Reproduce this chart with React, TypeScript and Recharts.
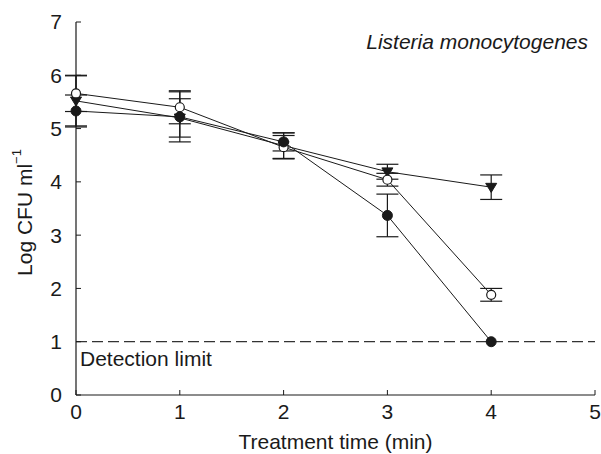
import React from "react";
import {
  LineChart,
  Line,
  XAxis,
  YAxis,
  ErrorBar,
  ReferenceLine,
} from "recharts";

const times = [0, 1, 2, 3, 4];
const filledCircle = [5.33, 5.22, 4.75, 3.37, 1.0];
const filledCircleErr = [0.3, 0.47, 0.17, 0.4, 0];
const openCircle = [5.66, 5.4, 4.65, 4.04, 1.88];
const openCircleErr = [0.34, 0.31, 0.22, 0.12, 0.12];
const triangle = [5.52, 5.2, 4.68, 4.19, 3.9];
const triangleErr = [0.47, 0.36, 0.24, 0.14, 0.23];

const xTicks = [0, 1, 2, 3, 4, 5];
const yTicks = [0, 1, 2, 3, 4, 5, 6, 7];

const FONT = "'Liberation Sans', Arial, Helvetica, sans-serif";
const INK = "#1a1a1a";

const data = times.map((t, i) => ({
  t,
  filled: filledCircle[i],
  filledErr: filledCircleErr[i],
  open: openCircle[i],
  openErr: openCircleErr[i],
  tri: triangle[i],
  triErr: triangleErr[i],
}));

interface DotProps {
  cx?: number;
  cy?: number;
  index?: number;
}

function FilledDot({ cx = 0, cy = 0, index }: DotProps) {
  return <circle key={`f${index}`} cx={cx} cy={cy} r={5} fill={INK} stroke={INK} />;
}

function OpenDot({ cx = 0, cy = 0, index }: DotProps) {
  return <circle key={`o${index}`} cx={cx} cy={cy} r={4.5} fill="#fff" stroke={INK} strokeWidth={1.2} />;
}

function TriDot({ cx = 0, cy = 0, index }: DotProps) {
  const s = 5.5;
  return (
    <path
      key={`t${index}`}
      d={`M${cx - s},${cy - s * 0.7} L${cx + s},${cy - s * 0.7} L${cx},${cy + s * 0.95} Z`}
      fill={INK}
      stroke={INK}
    />
  );
}

function YLabel({ viewBox }: any) {
  const cx = viewBox.x + 24;
  const cy = viewBox.y + viewBox.height / 2 + 4;
  return (
    <text
      x={cx}
      y={cy}
      transform={`rotate(-90 ${cx} ${cy})`}
      textAnchor="middle"
      dominantBaseline="central"
      fontFamily={FONT}
      fontSize={21}
      fill={INK}
    >
      Log CFU ml
      <tspan dy={-8} fontSize={13}>−1</tspan>
    </text>
  );
}

function XLabel({ viewBox }: any) {
  return (
    <text
      x={viewBox.x + viewBox.width / 2}
      y={viewBox.y + 54}
      textAnchor="middle"
      fontFamily={FONT}
      fontSize={21}
      fill={INK}
    >
      Treatment time (min)
    </text>
  );
}

function TitleLabel({ viewBox }: any) {
  return (
    <text
      x={viewBox.x + viewBox.width - 7}
      y={viewBox.y + 27}
      textAnchor="end"
      fontFamily={FONT}
      fontStyle="italic"
      fontSize={21}
      fill={INK}
    >
      Listeria monocytogenes
    </text>
  );
}

function LimitLabel({ viewBox }: any) {
  return (
    <text
      x={viewBox.x + 4}
      y={viewBox.y + 24}
      fontFamily={FONT}
      fontSize={21}
      fill={INK}
    >
      Detection limit
    </text>
  );
}

export default function App() {
  const tickStyle = { fontFamily: FONT, fontSize: 21, fill: INK };
  return (
    <div style={{ position: "absolute", left: 0, top: 0, background: "#fff" }}>
      <LineChart
        width={601}
        height={454}
        data={data}
        margin={{ top: 22, right: 6, bottom: 0, left: 0 }}
      >
        <XAxis
          xAxisId="main"
          dataKey="t"
          type="number"
          domain={[0, 5]}
          ticks={xTicks}
          interval={0}
          tick={tickStyle}
          tickSize={-5}
          tickMargin={14}
          height={59}
          axisLine={{ stroke: INK, strokeWidth: 1.2 }}
          tickLine={{ stroke: INK }}
          label={<XLabel />}
        />
        <XAxis
          xAxisId="top"
          dataKey="t"
          type="number"
          domain={[0, 5]}
          orientation="top"
          height={0}
          tick={false}
          tickLine={false}
          axisLine={{ stroke: INK, strokeWidth: 1.2 }}
        />
        <YAxis
          yAxisId="main"
          type="number"
          domain={[0, 7]}
          ticks={yTicks}
          interval={0}
          tick={tickStyle}
          tickSize={-5}
          tickMargin={19}
          width={76}
          axisLine={{ stroke: INK, strokeWidth: 1.2 }}
          tickLine={{ stroke: INK }}
          label={<YLabel />}
        />
        <YAxis
          yAxisId="right"
          type="number"
          domain={[0, 7]}
          orientation="right"
          width={0}
          tick={false}
          tickLine={false}
          axisLine={{ stroke: INK, strokeWidth: 1.2 }}
        />
        <ReferenceLine
          xAxisId="main"
          yAxisId="main"
          y={1}
          stroke="#333"
          strokeWidth={1.2}
          strokeDasharray="11 5"
          label={<LimitLabel />}
        />
        <ReferenceLine
          xAxisId="main"
          yAxisId="main"
          y={7}
          stroke="none"
          label={<TitleLabel />}
        />
        <Line
          xAxisId="main"
          yAxisId="main"
          dataKey="tri"
          stroke={INK}
          strokeWidth={1}
          dot={<TriDot />}
          isAnimationActive={false}
        >
          <ErrorBar dataKey="triErr" width={11} stroke={INK} strokeWidth={1.2} isAnimationActive={false} />
        </Line>
        <Line
          xAxisId="main"
          yAxisId="main"
          dataKey="open"
          stroke={INK}
          strokeWidth={1}
          dot={<OpenDot />}
          isAnimationActive={false}
        >
          <ErrorBar dataKey="openErr" width={11} stroke={INK} strokeWidth={1.2} isAnimationActive={false} />
        </Line>
        <Line
          xAxisId="main"
          yAxisId="main"
          dataKey="filled"
          stroke={INK}
          strokeWidth={1}
          dot={<FilledDot />}
          isAnimationActive={false}
        >
          <ErrorBar dataKey="filledErr" width={11} stroke={INK} strokeWidth={1.2} isAnimationActive={false} />
        </Line>
      </LineChart>
    </div>
  );
}
